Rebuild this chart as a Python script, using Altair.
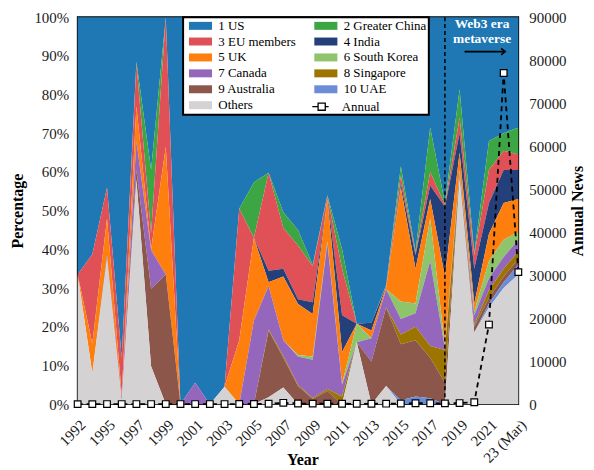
import json
import altair as alt
import pandas as pd

SERIF = "Liberation Serif"

years = ["1992", "1994", "1995", "1996", "1997", "1998", "1999", "2000", "2001", "2002",
         "2003", "2004", "2005", "2006", "2007", "2008", "2009", "2010", "2011", "2012",
         "2013", "2014", "2015", "2016", "2017", "2018", "2019", "2020", "2021", "2022",
         "23 (Mar)"]

# shares (%) per year
us        = [66.5, 61.3, 44, 88, 11.5, 39.4, 0, 100, 94.5, 100, 95.5, 49.5, 42.7, 40.2, 50.4, 55, 64, 46, 60, 79.2, 79, 69.2, 38.5, 60.5, 28.5, 48, 18.6, 61, 32, 30, 28.5]
china     = [0, 0, 0, 0, 0.5, 16.3, 0, 0, 0, 0, 0, 0, 14.3, 0, 4.1, 4, 0.4, 0.3, 5, 0, 0, 0.2, 2.5, 0.5, 11.5, 0.5, 7.4, 0.5, 7.5, 4.5, 7]
eu        = [0, 23, 8, 9.5, 11, 4.3, 33.5, 0, 0, 0, 0, 34, 0, 25.3, 10.5, 13.9, 9.3, 0.4, 12, 0, 0, 0.2, 2, 0.5, 3.5, 0.5, 4, 3.5, 8.5, 5, 4]
india     = [0, 0, 0, 0, 0, 0, 0, 0, 0, 0, 0, 0, 0, 3, 2, 1.2, 3, 0.3, 9.5, 0, 2, 0.2, 1, 3.5, 3.5, 18, 5, 9, 8, 8.5, 7.5]
uk        = [0, 7.7, 9.5, 1, 9, 0.2, 33, 0, 0, 0, 0, 16.5, 21.4, 1, 16.5, 13.2, 11, 10.9, 8.2, 0, 2, 0.5, 29.5, 9, 5, 18, 4.5, 2, 7, 9.5, 8.5]
korea     = [0, 0, 0, 0, 0, 0, 0, 0, 0, 0, 0, 0, 0, 0, 0, 0.4, 0.8, 0.5, 0.3, 4.8, 0, 0, 4.5, 2.5, 11, 0.5, 0.5, 1, 4.5, 4.5, 2]
canada    = [0, 0, 1, 1, 7.5, 10, 0, 0, 5.5, 0, 0, 0, 21.6, 11.2, 4, 7.3, 9.9, 37.7, 3, 0, 6, 4.7, 4, 3.5, 22, 0.5, 0.5, 2.5, 3, 3, 3]
singapore = [0, 0, 0, 0, 0, 0, 0, 0, 0, 0, 0, 0, 0, 0.3, 0.5, 0.3, 0.3, 0.5, 2, 0, 0, 0, 2.5, 3.5, 3, 8.5, 0.5, 0.5, 2, 2, 2]
australia = [0, 0, 0, 0, 2.5, 20, 33.5, 0, 0, 0, 0, 0, 0, 17.2, 7.7, 4.7, 1.3, 3.4, 0, 0, 11, 20.3, 14.5, 14.5, 10.5, 5.5, 0.5, 1.5, 1.5, 1.5, 1.5]
uae       = [0, 0, 0, 0, 0, 0, 0, 0, 0, 0, 0, 0, 0, 0, 0, 0, 0, 0, 0, 0, 0, 0, 1, 2, 1.5, 0, 0.5, 0, 1, 1.5, 2.5]
others    = [33.5, 8, 37.5, 0.5, 58, 9.8, 0, 0, 0, 0, 4.5, 0, 0, 1.8, 4.3, 0, 0, 0, 0, 16, 0, 4.7, 0, 0, 0, 0, 58, 18.5, 25, 30, 33.5]

annual = [5, 3, 8, 10, 15, 12, 10, 8, 10, 12, 15, 20, 40, 80, 300, 150, 120, 100, 90, 80,
          90, 110, 150, 220, 200, 180, 250, 450, 18500, 77000, 30700]

legend_order = ["1 US", "2 Greater China", "3 EU members", "4 India", "5 UK",
                "6 South Korea", "7 Canada", "8 Singapore", "9 Australia", "10 UAE", "Others"]
palette = ["#1f77b4", "#3da644", "#df5156", "#24407a", "#ff7f0e",
           "#8ec46a", "#9467bd", "#9b7500", "#8c564b", "#6b8dd6", "#d4d2d3"]
stack_bottom_up = ["Others", "10 UAE", "9 Australia", "8 Singapore", "7 Canada",
                   "6 South Korea", "5 UK", "4 India", "3 EU members", "2 Greater China", "1 US"]

series = {"1 US": us, "2 Greater China": china, "3 EU members": eu, "4 India": india,
          "5 UK": uk, "6 South Korea": korea, "7 Canada": canada, "8 Singapore": singapore,
          "9 Australia": australia, "10 UAE": uae, "Others": others}

rows = []
for name, vals in series.items():
    for i, v in enumerate(vals):
        rows.append({"idx": i, "year": years[i], "country": name, "share": v,
                     "rank": stack_bottom_up.index(name)})
df = pd.DataFrame(rows)
ann_df = pd.DataFrame({"idx": list(range(len(years))), "year": years, "annual": annual,
                       "lab": ["Annual"] * len(years)})

label_expr = json.dumps(years).replace('"', "'") + "[datum.value]"

RECT_PATH = "M-2.9,-1L2.9,-1L2.9,1L-2.9,1Z"
ANN_PATH = "M-2.9,0L-1.45,0M-1.45,-0.9L0.35,-0.9L0.35,0.9L-1.45,0.9ZM0.35,0L1.2,0"

xscale = alt.Scale(domain=[0, 30], nice=False, zero=False)
pscale = alt.Scale(domain=[0, 1], nice=False, zero=False)
yright = alt.Scale(domain=[0, 90000], nice=False, zero=False)

XAXIS = alt.Axis(values=list(range(0, 31, 2)), labelExpr=label_expr,
                 labelAngle=315, ticks=False, domain=False, grid=False,
                 labelOverlap=False,
                 labelFont=SERIF, labelFontSize=15, labelColor="#1a1a1a",
                 labelPadding=13, title="Year", titleFont=SERIF,
                 titleFontSize=16, titleFontWeight="bold", titleColor="black",
                 titleX=226, titleY=61, titleAlign="center",
                 titleBaseline="alphabetic")


def xenc(field):
    return alt.X(field, type="quantitative", scale=xscale, axis=XAXIS)


area = alt.Chart(df).mark_area(opacity=1).encode(
    x=xenc("idx"),
    y=alt.Y("share:Q", stack="normalize", scale=pscale,
            axis=alt.Axis(orient="left", values=[round(i / 10, 1) for i in range(11)],
                          format=".0%", ticks=False, domain=False, grid=False,
                          labelFont=SERIF, labelFontSize=15, labelColor="#1a1a1a",
                          labelPadding=9, title="Percentage", titleFont=SERIF,
                          titleFontSize=16, titleFontWeight="bold", titleColor="black",
                          titleAngle=270, titleX=-55, titleY=194.5, titleAlign="center",
                          titleBaseline="alphabetic")),
    color=alt.Color("country:N", scale=alt.Scale(domain=legend_order, range=palette),
                    legend=alt.Legend(title=".", titleOrient="left", titlePadding=5,
                                      titleFontSize=13, titleFont=SERIF,
                                      titleColor="white",
                                      orient="none", legendX=106, legendY=0,
                                      columns=2, direction="horizontal",
                                      symbolType=RECT_PATH, symbolSize=64,
                                      symbolStrokeWidth=0, labelOffset=11.4,
                                      labelFont=SERIF, labelFontSize=13,
                                      labelColor="black", labelLimit=400,
                                      rowPadding=2.0, columnPadding=17, padding=2,
                                      strokeColor="black", fillColor="white")),
    order=alt.Order("rank:Q", sort="ascending"),
)

vline_df = pd.DataFrame({"idx": [25], "y0": [0.0], "y1": [1.0]})
vline = alt.Chart(vline_df).mark_rule(color="black", strokeDash=[4, 3], strokeWidth=1.5).encode(
    x=xenc("idx"),
    y=alt.Y("y0:Q", scale=pscale, axis=None),
    y2="y1:Q",
)

arrow_df = pd.DataFrame({"xa": [26.34], "xb": [29.1], "y": [0.911]})
arrow_line = alt.Chart(arrow_df).mark_rule(color="black", strokeWidth=1.6).encode(
    x=xenc("xa"), x2="xb:Q",
    y=alt.Y("y:Q", scale=pscale, axis=None))
arrow_head = alt.Chart(arrow_df).mark_point(shape="M-1,-0.8L0,0L-1,0.8", filled=False,
                                            color="black", strokeWidth=1.6, size=64,
                                            opacity=1).encode(
    x=xenc("xb"), y=alt.Y("y:Q", scale=pscale, axis=None))

note_df = pd.DataFrame({"idx": [27.53, 27.53], "y": [0.971, 0.934],
                        "txt": ["Web3 era", "metaverse"]})
note = alt.Chart(note_df).mark_text(font=SERIF, fontSize=13.5, fontWeight="bold",
                                    color="white", align="center",
                                    baseline="alphabetic").encode(
    x=xenc("idx"), y=alt.Y("y:Q", scale=pscale, axis=None),
    text="txt:N")

ann_line = alt.Chart(ann_df).mark_line(color="black", strokeDash=[5, 4], strokeWidth=1.8).encode(
    x=xenc("idx"),
    y=alt.Y("annual:Q", scale=yright,
            axis=alt.Axis(orient="right", values=list(range(0, 90001, 10000)), format="d",
                          ticks=False, domain=False, grid=False, labelFont=SERIF,
                          labelFontSize=15, labelColor="#1a1a1a", labelPadding=10.5,
                          title="Annual News", titleFont=SERIF, titleFontSize=16,
                          titleFontWeight="bold", titleColor="black", titleAngle=270,
                          titleX=64, titleY=194.5, titleAlign="center",
                          titleBaseline="alphabetic")),
)
ann_pts = alt.Chart(ann_df).mark_point(shape="square", filled=True, fill="white",
                                       stroke="black", strokeWidth=1.2, size=45,
                                       opacity=1).encode(
    x=xenc("idx"),
    y=alt.Y("annual:Q", scale=yright, axis=None),
)
# zero-size layer that only provides the "Annual" legend entry
ann_key = alt.Chart(ann_df).mark_point(filled=False, color="black",
                                       strokeWidth=1.3, size=0).encode(
    x=xenc("idx"),
    y=alt.Y("annual:Q", scale=yright, axis=None),
    shape=alt.Shape("lab:N", scale=alt.Scale(domain=["Annual"], range=[ANN_PATH]),
                    legend=alt.Legend(title=None, orient="none", legendX=241, legendY=83.5,
                                      padding=0, symbolSize=64,
                                      symbolStrokeColor="black", symbolStrokeWidth=1.3,
                                      symbolOpacity=1, labelOffset=11.4, labelFont=SERIF,
                                      labelFontSize=13, labelColor="black")),
)

chart = alt.layer(area, vline, arrow_line, arrow_head, note, ann_line, ann_pts, ann_key
                  ).resolve_scale(y="independent").properties(
    width=443, height=389,
    padding={"left": 70, "top": 8, "right": 68, "bottom": 64},
    autosize=alt.AutoSizeParams(type="none"),
    background="white",
).configure_view(stroke="black", strokeWidth=1.6).configure_legend(
    strokeWidth=2, labelFont=SERIF, titleFont=SERIF)

chart.save("out.html", embed_options={"renderer": "svg", "actions": False})
